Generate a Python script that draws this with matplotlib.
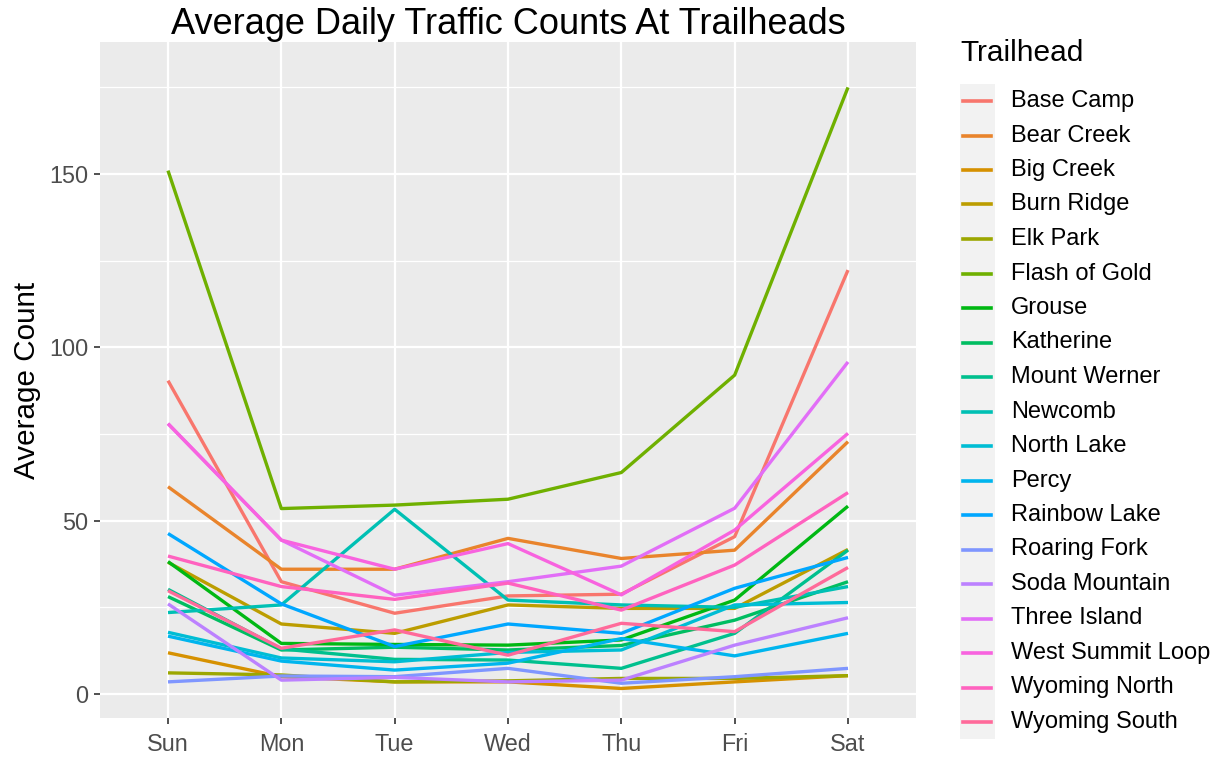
import numpy as np
import matplotlib
matplotlib.use("Agg")
from matplotlib import pyplot as plt
from matplotlib.lines import Line2D
from matplotlib.patches import Rectangle

days = ["Sun", "Mon", "Tue", "Wed", "Thu", "Fri", "Sat"]

trailheads = ["Base Camp", "Bear Creek", "Big Creek", "Burn Ridge", "Elk Park",
              "Flash of Gold", "Grouse", "Katherine", "Mount Werner", "Newcomb",
              "North Lake", "Percy", "Rainbow Lake", "Roaring Fork", "Soda Mountain",
              "Three Island", "West Summit Loop", "Wyoming North", "Wyoming South"]

# average counts, Sun..Sat
base_camp = [90.4, 32.4, 23.3, 28.3, 28.8, 45.4, 122.3]
bear_creek = [59.8, 36.0, 36.0, 44.9, 39.1, 41.5, 72.8]
big_creek = [11.9, 5.0, 3.5, 3.5, 1.6, 3.5, 5.3]
burn_ridge = [38.0, 20.2, 17.5, 25.7, 24.7, 24.7, 41.7]
elk_park = [6.1, 5.5, 3.5, 3.8, 4.5, 4.5, 5.3]
flash_of_gold = [151.0, 53.5, 54.5, 56.2, 63.9, 92.0, 175.0]
grouse = [38.2, 14.6, 14.3, 14.1, 15.6, 27.1, 54.2]
katherine = [28.1, 12.7, 13.5, 12.7, 14.0, 21.3, 32.4]
mount_werner = [30.2, 13.0, 10.0, 9.8, 7.4, 17.5, 41.5]
newcomb = [23.5, 25.7, 53.3, 27.1, 25.7, 25.0, 31.0]
north_lake = [17.8, 10.4, 9.3, 12.0, 12.7, 25.7, 26.4]
percy = [16.7, 9.5, 6.9, 8.9, 16.0, 11.0, 17.5]
rainbow_lake = [46.3, 26.0, 13.7, 20.2, 17.5, 30.5, 39.4]
roaring_fork = [3.5, 5.2, 5.0, 7.4, 3.1, 5.0, 7.4]
soda_mountain = [26.0, 4.0, 4.8, 3.5, 4.0, 14.1, 22.0]
three_island = [78.0, 44.4, 28.5, 32.4, 36.9, 53.6, 95.8]
west_summit_loop = [78.0, 44.4, 36.0, 43.4, 28.6, 47.3, 75.2]
wyoming_north = [39.8, 31.0, 27.3, 32.0, 24.2, 37.2, 58.1]
wyoming_south = [29.8, 13.2, 18.5, 11.2, 20.4, 18.0, 36.5]

series = [base_camp, bear_creek, big_creek, burn_ridge, elk_park, flash_of_gold,
          grouse, katherine, mount_werner, newcomb, north_lake, percy,
          rainbow_lake, roaring_fork, soda_mountain, three_island,
          west_summit_loop, wyoming_north, wyoming_south]

yticks = [0, 50, 100, 150]


def hcl_to_hex(h, c=100.0, l=65.0):
    # polar Luv -> sRGB, same as R's hcl()
    xn, yn, zn = 95.047, 100.0, 108.883
    un = 4 * xn / (xn + 15 * yn + 3 * zn)
    vn = 9 * yn / (xn + 15 * yn + 3 * zn)
    u = c * np.cos(np.radians(h))
    v = c * np.sin(np.radians(h))
    Y = yn * ((l + 16) / 116) ** 3
    up = u / (13 * l) + un
    vp = v / (13 * l) + vn
    X = Y * 9 * up / (4 * vp)
    Z = Y * (12 - 3 * up - 20 * vp) / (4 * vp)
    xyz = np.array([X, Y, Z]) / 100
    m = np.array([[3.2404542, -1.5371385, -0.4985314],
                  [-0.9692660, 1.8760108, 0.0415560],
                  [0.0556434, -0.2040259, 1.0572252]])
    rgb = m @ xyz
    rgb = np.where(rgb <= 0.0031308, 12.92 * rgb, 1.055 * np.clip(rgb, 0, None) ** (1 / 2.4) - 0.055)
    rgb = np.clip(rgb, 0, 1)
    return matplotlib.colors.to_hex(rgb)


n = len(trailheads)
colors = [hcl_to_hex(15 + 360 * i / n) for i in range(n)]

W, H = 1219, 759
fig = plt.figure(figsize=(W / 100, H / 100), dpi=100)
FONT = "Liberation Sans"

# panel position in pixels
px0, px1, py0, py1 = 100, 916, 42, 718
ax = fig.add_axes([px0 / W, 1 - py1 / H, (px1 - px0) / W, (py1 - py0) / H])
ax.set_facecolor("#EBEBEB")

x = np.arange(len(days))
for name, vals, col in zip(trailheads, series, colors):
    ax.plot(x, vals, color=col, lw=2.4, solid_capstyle="butt", label=name, zorder=3)

ax.set_xlim(-0.6, len(days) - 1 + 0.6)
ax.set_ylim(-6.92, 188.1)
ax.set_xticks(x)
ax.set_xticklabels(days)
ax.set_yticks(yticks)
ax.set_yticks([25, 75, 125, 175], minor=True)
ax.grid(which="major", color="white", lw=1.6, zorder=0)
ax.grid(which="minor", axis="y", color="white", lw=0.9, zorder=0)
for s in ax.spines.values():
    s.set_visible(False)
ax.tick_params(axis="both", which="major", colors="#333333", length=4.5, width=1.2,
               labelsize=16.8, labelcolor="#4D4D4D", pad=4)
ax.tick_params(axis="x", which="major", pad=6)
ax.tick_params(axis="both", which="minor", length=0)
ax.set_ylabel("Average Count", fontsize=21.3, labelpad=6, family=FONT)
for lab in ax.get_xticklabels() + ax.get_yticklabels():
    lab.set_family(FONT)

fig.text((px0 + px1) / 2 / W, 1 - 24 / H, "Average Daily Traffic Counts At Trailheads",
         ha="center", va="center", fontsize=26, family=FONT)

# legend, drawn ggplot-style
fig.text(960 / W, 1 - 53 / H, "Trailhead", ha="left", va="center", fontsize=21.5,
         family=FONT)
row0, step = 101, 34.5
fig.add_artist(Rectangle((960 / W, 1 - (row0 + step * (n - 0.5)) / H), 35 / W, step * n / H,
                         transform=fig.transFigure, color="#F2F2F2", lw=0))
for i, (name, col) in enumerate(zip(trailheads, colors)):
    yy = 1 - (row0 + step * i) / H
    fig.add_artist(Line2D([963 / W, 991 / W], [yy, yy], transform=fig.transFigure,
                          color=col, lw=2.6))
    fig.text(1011 / W, yy, name, ha="left", va="center", fontsize=17,
             family=FONT)

fig.savefig("out.png", dpi=100)
